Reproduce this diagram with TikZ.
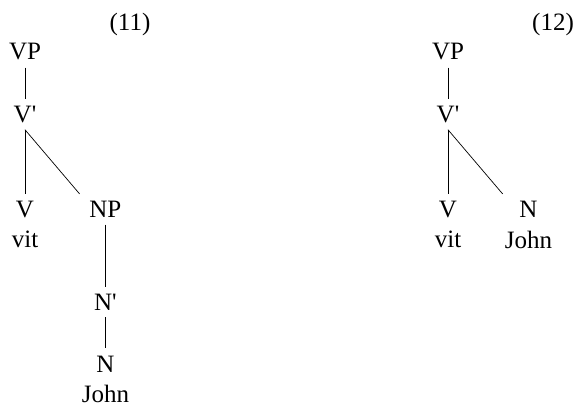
\documentclass[tikz,border=0pt]{standalone}
\usepackage{fontspec}
\setmainfont{Liberation Serif}
\usetikzlibrary{positioning}
\tikzstyle{cat} = [inner sep=7pt, font=\fontsize{25}{30}\selectfont]
\tikzstyle{word} = [inner sep=2pt, font=\fontsize{25}{30}\selectfont]
\tikzstyle{branch} = [line width=0.7pt]

\begin{document}
\begin{tikzpicture}[x=1pt,y=-1pt]
        \useasboundingbox (0,0) rectangle (576,409);
        % tree (11)
        \node[word] (num1) at (130,24) {(11)};
        \node[cat] (vp1) at (25,52) {VP};
        \node[cat] (vb1) [below =31pt of vp1] {V\textquotesingle};
        \node[cat] (v1) [below =64pt of vb1] {V};
        \node[cat] (np1) [right =41pt of v1] {NP};
        \node[cat] (nb1) [below =62pt of np1] {N\textquotesingle};
        \node[cat] (n1) [below =31pt of nb1] {N};
        \node[word] (vit1) [below =4pt of v1] {vit};
        \node[word] (john1) [below =4pt of n1] {John};
        \draw[branch] (vp1) -- (vb1);
        \draw[branch] (vb1) -- (v1);
        \draw[branch] (vb1.south) -- (np1.north -| john1.west);
        \draw[branch] (np1) -- (nb1);
        \draw[branch] (nb1) -- (n1);
        % tree (12)
        \node[word] (num2) at (553,24) {(12)};
        \node[cat] (vp2) at (448,52) {VP};
        \node[cat] (vb2) [below =31pt of vp2] {V\textquotesingle};
        \node[cat] (v2) [below =64pt of vb2] {V};
        \node[cat] (n2) [right =48pt of v2] {N};
        \node[word] (vit2) [below =4pt of v2] {vit};
        \node[word] (john2) [below =4pt of n2] {John};
        \draw[branch] (vp2) -- (vb2);
        \draw[branch] (vb2) -- (v2);
        \draw[branch] (vb2.south) -- (n2.north -| john2.west);
    \end{tikzpicture}
\end{document}
